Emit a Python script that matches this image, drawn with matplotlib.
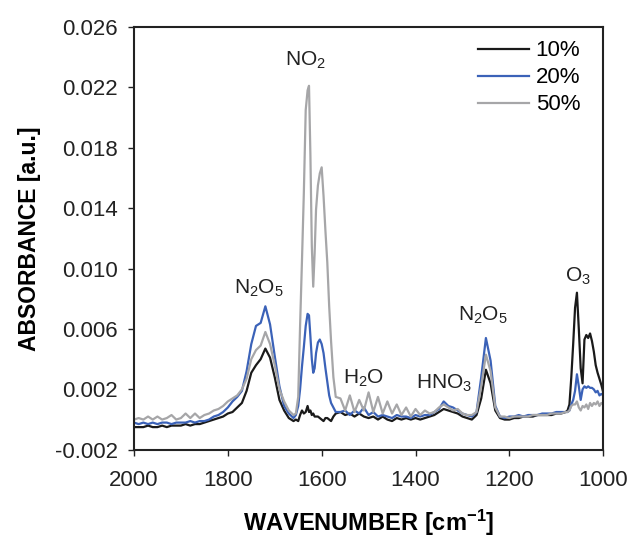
import matplotlib.pyplot as plt

plt.rcParams['font.family'] = ['Liberation Sans', 'DejaVu Sans']

# wavenumber grid [cm-1], denser near the sharp bands
wavenumber = [2000, 1990, 1980, 1970, 1960, 1950, 1940, 1930, 1920, 1910,
              1900, 1890, 1880, 1870, 1860, 1850, 1840, 1830, 1820, 1810,
              1800, 1790, 1780, 1770, 1760, 1750, 1740, 1730, 1720, 1710,
              1700, 1690, 1680, 1670, 1660,
              1655, 1650, 1646, 1642, 1638, 1634, 1630, 1627, 1624, 1621,
              1618, 1615, 1612, 1608, 1604, 1600, 1596, 1592, 1588, 1584,
              1580, 1575, 1570,
              1560, 1550, 1540, 1530, 1520, 1510, 1500, 1490, 1480, 1470,
              1460, 1450, 1440, 1430, 1420, 1410, 1400, 1390, 1380, 1370,
              1360, 1350, 1340, 1330, 1320, 1310, 1300, 1290, 1280, 1270,
              1260, 1250, 1240, 1230, 1220, 1210, 1200, 1190, 1180, 1170,
              1160, 1150, 1140, 1130, 1120, 1110, 1100, 1090, 1080,
              1076, 1072, 1068, 1064, 1060, 1056, 1052, 1048, 1044, 1040,
              1036, 1032, 1028, 1024, 1020, 1016, 1012, 1008, 1004, 1000]

# absorbance in units of 0.001 a.u.
abs_10 = [-0.5, -0.5, -0.5, -0.4, -0.5, -0.5, -0.4, -0.5, -0.4, -0.4,
          -0.4, -0.3, -0.4, -0.3, -0.3, -0.2, -0.1, 0.0, 0.1, 0.2,
          0.4, 0.5, 0.8, 1.1, 1.9, 3.1, 3.6, 4.0, 4.7, 4.1,
          2.8, 1.3, 0.6, 0.1, -0.1,
          0.0, -0.1, 0.3, 0.6, 0.4, 0.5, 0.9, 0.5, 0.6, 0.3,
          0.4, 0.2, 0.2, 0.2, 0.1, 0.0, -0.1, 0.1, 0.1, 0.0,
          -0.1, 0.2, 0.4,
          0.5, 0.3, 0.4, 0.2, 0.4, 0.2, 0.1, 0.2, 0.0, 0.2,
          0.0, -0.1, 0.1, 0.0, 0.1, 0.0, 0.1, 0.0, 0.1, 0.2,
          0.3, 0.5, 0.7, 0.6, 0.5, 0.4, 0.2, 0.1, 0.0, 0.3,
          1.4, 3.3, 2.4, 0.6, 0.1, 0.0, 0.0, 0.1, 0.1, 0.2,
          0.2, 0.2, 0.3, 0.3, 0.3, 0.3, 0.4, 0.4, 0.5,
          0.6, 1.0, 2.8, 5.0, 7.4, 8.4, 6.0, 3.4, 2.4, 5.3,
          5.6, 5.4, 5.7, 5.2, 4.5, 3.6, 3.1, 2.7, 2.3, 1.8]

abs_20 = [-0.2, -0.3, -0.2, -0.3, -0.2, -0.3, -0.2, -0.2, -0.3, -0.2,
          -0.2, -0.2, -0.1, -0.2, -0.1, -0.1, 0.0, 0.2, 0.3, 0.5,
          0.8, 1.2, 1.5, 1.9, 3.2, 5.0, 6.2, 6.4, 7.5, 6.3,
          4.2, 2.2, 0.9, 0.4, 0.1,
          0.3, 0.9, 2.0, 3.5, 4.8, 6.2, 7.0, 6.9, 5.5, 4.0,
          3.1, 3.4, 4.4, 5.1, 5.3, 5.0, 4.4, 3.4, 2.5, 1.6,
          1.1, 0.8, 0.5,
          0.5, 0.6, 0.3, 0.6, 0.4, 0.8, 0.3, 0.5, 0.2, 0.3,
          0.2, 0.1, 0.3, 0.2, 0.2, 0.1, 0.3, 0.2, 0.3, 0.3,
          0.5, 0.7, 1.2, 0.9, 0.8, 0.6, 0.4, 0.3, 0.2, 0.5,
          2.8, 5.4, 3.9, 0.9, 0.2, 0.1, 0.2, 0.2, 0.3, 0.2,
          0.3, 0.3, 0.3, 0.4, 0.4, 0.4, 0.5, 0.5, 0.5,
          0.5, 0.6, 1.0, 1.3, 1.9, 3.0, 2.2, 1.3, 2.0, 2.2,
          2.1, 2.2, 2.1, 2.1, 2.0, 1.8, 1.9, 1.6, 1.7, 1.6]

abs_50 = [0.0, 0.1, 0.0, 0.2, 0.0, 0.2, 0.0, 0.1, 0.3, 0.0,
          0.1, 0.4, 0.1, 0.4, 0.1, 0.3, 0.4, 0.6, 0.7, 0.9,
          1.2, 1.4, 1.6, 2.0, 2.7, 4.0, 4.6, 4.9, 5.8, 5.0,
          3.6, 2.0, 1.2, 0.6, 0.3,
          0.4, 1.5, 6.2, 10.5, 15.0, 20.5, 21.8, 22.1, 17.5, 11.5,
          8.8, 11.0, 13.9, 15.5, 16.3, 16.7, 14.8, 12.5, 10.4, 7.5,
          5.2, 2.8, 1.5,
          1.4, 0.6, 1.6, 0.5, 1.3, 0.6, 1.8, 0.5, 1.5, 0.4,
          1.2, 0.4, 1.0, 0.3, 0.8, 0.2, 0.7, 0.3, 0.6, 0.4,
          0.5, 0.8, 1.0, 0.8, 0.6, 0.7, 0.4, 0.3, 0.3, 0.5,
          2.2, 4.3, 3.2, 0.8, 0.2, 0.2, 0.1, 0.2, 0.2, 0.2,
          0.2, 0.3, 0.3, 0.3, 0.3, 0.4, 0.4, 0.4, 0.5,
          0.5, 0.6, 0.9, 1.0, 1.0, 1.2, 0.8, 0.6, 0.9, 0.8,
          1.0, 0.7, 1.1, 0.9, 1.1, 1.0, 1.2, 0.9, 1.1, 1.0]

labels = ['10%', '20%', '50%']
colors = ['#1a1a1a', '#3b62b8', '#a6a6a8']

fig = plt.figure(figsize=(6.29, 5.38), dpi=100)
ax = fig.add_axes([0.213, 0.164, 0.746, 0.786])

for series, lab, col in zip([abs_10, abs_20, abs_50], labels, colors):
    ax.plot(wavenumber, [v / 1000 for v in series], color=col, lw=1.6, label=lab)

ax.set_xlim(2000, 1000)
ax.set_ylim(-0.002, 0.026)
ax.set_xticks([2000, 1800, 1600, 1400, 1200, 1000])
ax.set_yticks([-0.002, 0.002, 0.006, 0.010, 0.014, 0.018, 0.022, 0.026])
ax.set_yticklabels(['%.3f' % t for t in ax.get_yticks()])
ax.tick_params(direction='out', length=4.5, width=1, labelsize=16, colors='#222222')
ax.tick_params(axis='y', pad=7)
ax.tick_params(axis='x', pad=10)
for s in ax.spines.values():
    s.set_linewidth(1.5)
    s.set_color('#222222')

ax.set_xlabel(r'WAVENUMBER [cm$\mathregular{^{-1}}$]', fontsize=17, fontweight='bold',
              labelpad=12)
ax.set_ylabel('ABSORBANCE [a.u.]', fontsize=16.5, fontweight='bold', labelpad=10)

# band assignments
note = dict(fontsize=15, ha='center', va='center', color='#222222')
ax.text(1733, 0.0087, r'N$\mathregular{_2}$O$\mathregular{_5}$', **note)
ax.text(1635, 0.0238, r'NO$\mathregular{_2}$', **note)
ax.text(1511, 0.0027, r'H$\mathregular{_2}$O', **note)
ax.text(1339, 0.00237, r'HNO$\mathregular{_3}$', **note)
ax.text(1257, 0.0069, r'N$\mathregular{_2}$O$\mathregular{_5}$', **note)
ax.text(1053, 0.0095, r'O$\mathregular{_3}$', **note)

ax.legend(loc='upper right', bbox_to_anchor=(0.970, 0.989), borderaxespad=0,
          frameon=False, fontsize=16, handlelength=2.3, labelspacing=0.27,
          handletextpad=0.3)

fig.savefig('out.png', dpi=100)
